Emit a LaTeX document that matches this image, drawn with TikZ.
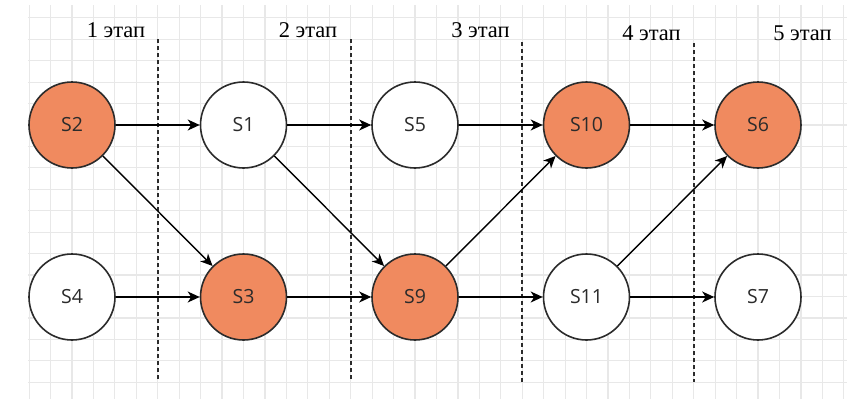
\documentclass[tikz,border=0pt]{standalone}
\usepackage{fontspec}
\setmainfont{Liberation Serif}
\newfontfamily\nodefont{Open Sans}
\usetikzlibrary{arrows.meta}
\definecolor{hot}{HTML}{F08A5F}
\definecolor{ink}{HTML}{2B2B2B}
\definecolor{gridline}{HTML}{E8E8E8}
\begin{document}
\begin{tikzpicture}[x=1pt,y=-1pt,
  state/.style={circle,draw=ink,line width=1.6pt,minimum size=86pt,inner sep=0pt,
    fill=white,text=ink,font=\nodefont\fontsize{19.5}{22}\selectfont},
  hotstate/.style={state,fill=hot},
  flow/.style={line width=1.4pt,-{Stealth[length=12pt,width=11pt,inset=3.5pt]}},
  stageline/.style={ink,line width=1.6pt,dash pattern=on 3.5pt off 3.5pt},
  stagelabel/.style={anchor=base,font=\fontsize{22.5}{26}\selectfont}]
\useasboundingbox (0,0) rectangle (847,399);
\fill[white] (0,0) rectangle (847,399);
% background grid
\begin{scope}
  \clip (28,5) rectangle (847,399);
  \foreach \k in {-2,...,36} \draw[gridline,line width=1.2pt] (72+21.44*\k,0) -- (72+21.44*\k,399);
  \foreach \k in {-6,...,13} \draw[gridline,line width=1.2pt] (0,125+21.44*\k) -- (847,125+21.44*\k);
\end{scope}
% stage separators
\coordinate (d1t) at (157.8,39); \coordinate (d1b) at (157.8,382);
\coordinate (d2t) at (350.7,39); \coordinate (d2b) at (350.7,382);
\coordinate (d3t) at (522.2,42); \coordinate (d3b) at (522.2,382);
\coordinate (d4t) at (693.8,43); \coordinate (d4b) at (693.8,382);
\draw[stageline] (d1t) -- (d1b);
\draw[stageline] (d2t) -- (d2b);
\draw[stageline] (d3t) -- (d3b);
\draw[stageline] (d4t) -- (d4b);
% stage titles
\node[stagelabel] (t1) at (116,37) {1 этап};
\node[stagelabel] (t2) at (308,37) {2 этап};
\node[stagelabel] (t3) at (480.5,37) {3 этап};
\node[stagelabel] (t4) at (651.5,40) {4 этап};
\node[stagelabel] (t5) at (802.5,40) {5 этап};
% states
\node[hotstate] (S2) at (72,125) {S2};
\node[state] (S1) at (243.5,125) {S1};
\node[state] (S5) at (415,125) {S5};
\node[hotstate] (S10) at (586.5,125) {S10};
\node[hotstate] (S6) at (758,125) {S6};
\node[state] (S4) at (72,297) {S4};
\node[hotstate] (S3) at (243.5,297) {S3};
\node[hotstate] (S9) at (415,297) {S9};
\node[state] (S11) at (586.5,297) {S11};
\node[state] (S7) at (758,297) {S7};
% transitions
\draw[flow] (S2) -- (S1);
\draw[flow] (S2) -- (S3);
\draw[flow] (S4) -- (S3);
\draw[flow] (S1) -- (S5);
\draw[flow] (S1) -- (S9);
\draw[flow] (S3) -- (S9);
\draw[flow] (S5) -- (S10);
\draw[flow] (S9) -- (S10);
\draw[flow] (S9) -- (S11);
\draw[flow] (S10) -- (S6);
\draw[flow] (S11) -- (S6);
\draw[flow] (S11) -- (S7);
\end{tikzpicture}
\end{document}
